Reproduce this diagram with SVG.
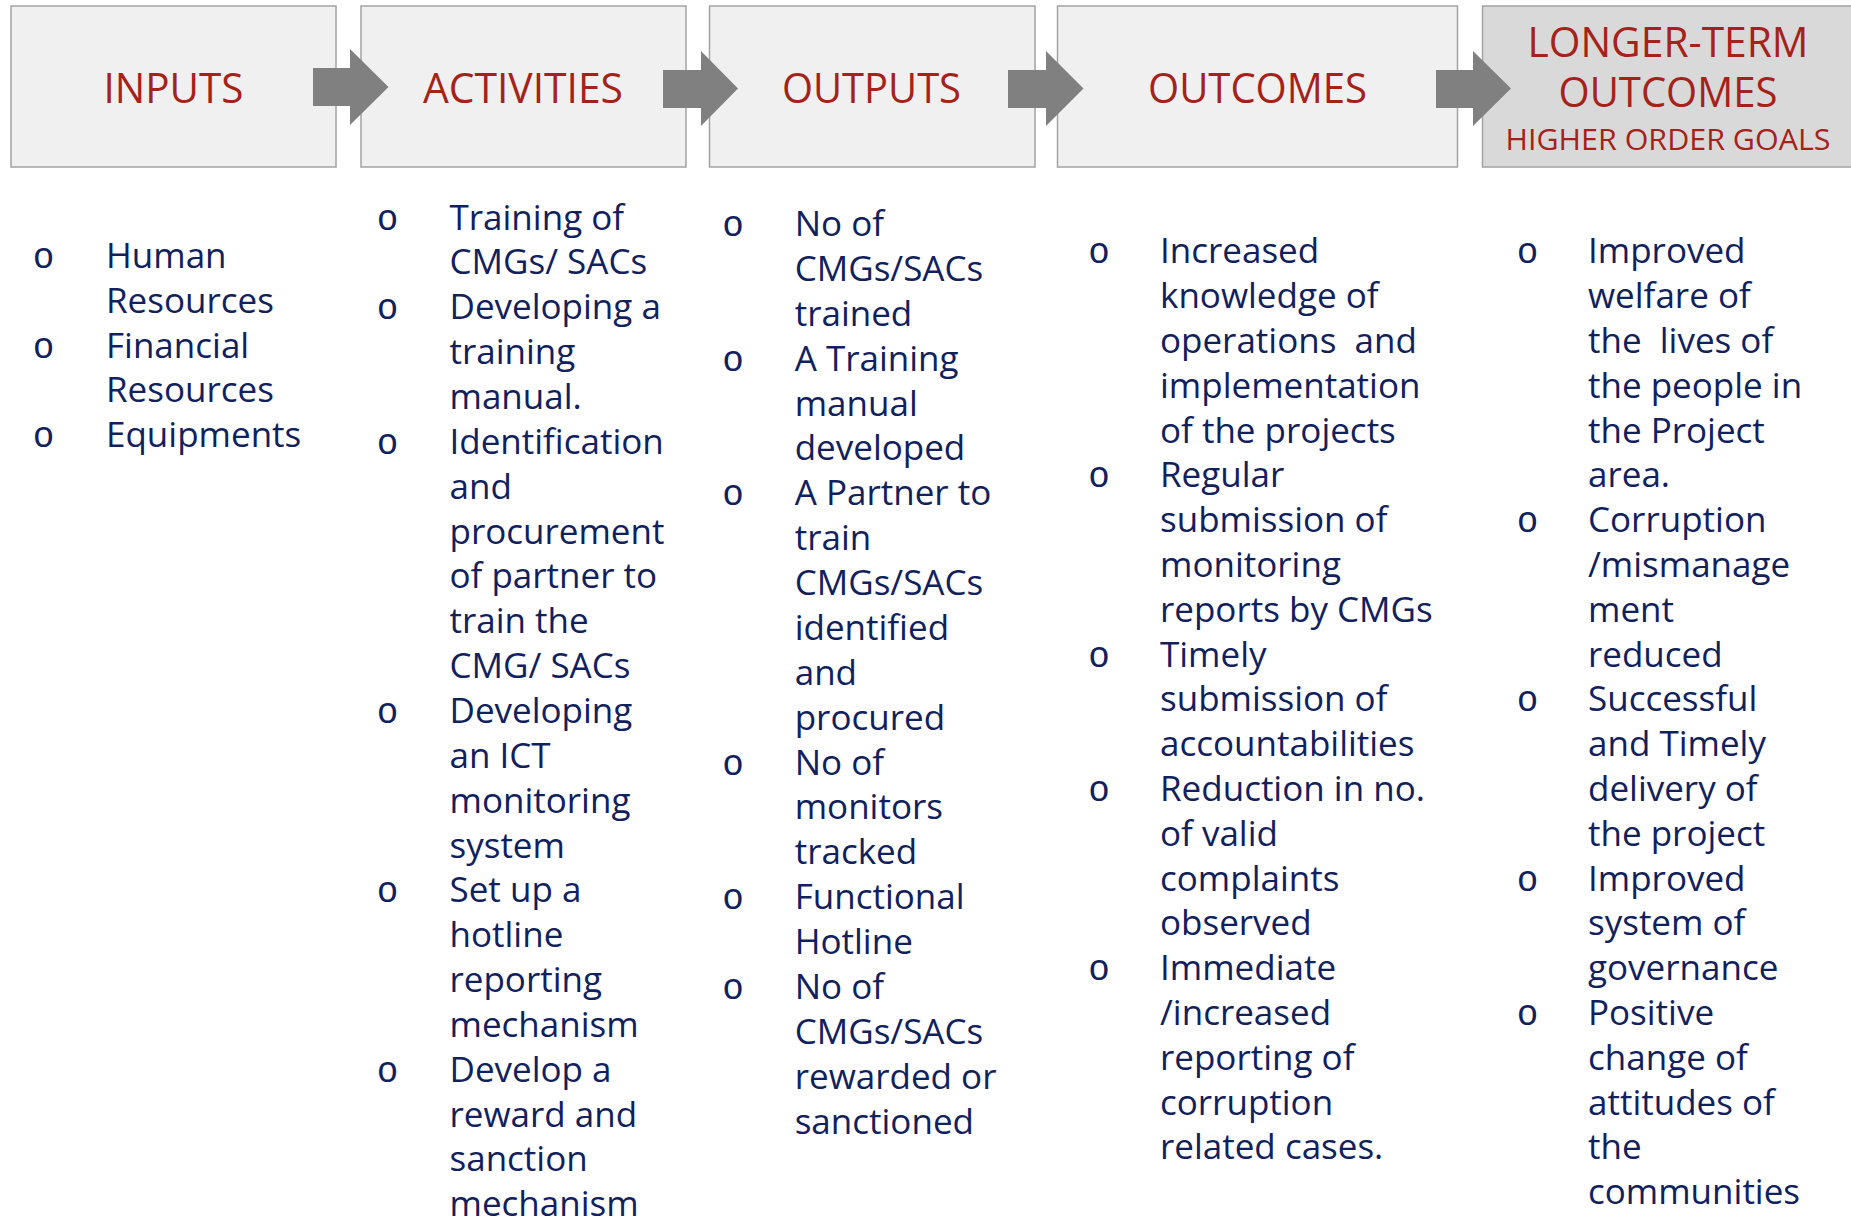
<svg xmlns="http://www.w3.org/2000/svg" width="1851" height="1219" viewBox="0 0 1851 1219">
  <style>
    .box { fill: #f0f0f0; stroke: #a3a3a3; stroke-width: 1.5; }
    .box-dark { fill: #d9d9d9; stroke: #a3a3a3; stroke-width: 1.5; }
    .head { font-family: "Open Sans", "Noto Sans", "Liberation Sans", sans-serif; fill: #a5221a; text-anchor: middle; }
    .h1 { font-size: 42px; }
    .h2 { font-size: 29px; }
    .body { font-family: "Open Sans", "Noto Sans", "Liberation Sans", sans-serif; font-size: 35px; fill: #10215e; }
    .bul { font-family: "Liberation Mono", "DejaVu Sans Mono", monospace; font-size: 36px; fill: #10215e; text-anchor: middle; }
    .arrow { fill: #808080; }
  </style>

  <rect width="1851" height="1219" fill="#ffffff"/>

  <!-- stage boxes -->
  <g id="inputs">
    <rect class="box" x="11" y="6" width="325" height="161"/>
    <text class="head h1" x="173.5" y="103" textLength="140" lengthAdjust="spacingAndGlyphs">INPUTS</text>
  </g>
  <g id="activities">
    <rect class="box" x="361" y="6" width="325" height="161"/>
    <text class="head h1" x="523" y="103" textLength="200" lengthAdjust="spacingAndGlyphs">ACTIVITIES</text>
  </g>
  <g id="outputs">
    <rect class="box" x="709.5" y="6" width="325.5" height="161"/>
    <text class="head h1" x="871.5" y="103" textLength="179" lengthAdjust="spacingAndGlyphs">OUTPUTS</text>
  </g>
  <g id="outcomes">
    <rect class="box" x="1057.5" y="6" width="400" height="161"/>
    <text class="head h1" x="1257.5" y="103" textLength="219" lengthAdjust="spacingAndGlyphs">OUTCOMES</text>
  </g>
  <g id="longer-term-outcomes">
    <rect class="box-dark" x="1482.5" y="6" width="372" height="161"/>
    <text class="head h1" x="1668" y="57" textLength="281" lengthAdjust="spacingAndGlyphs">LONGER-TERM</text>
    <text class="head h1" x="1668" y="107" textLength="219" lengthAdjust="spacingAndGlyphs">OUTCOMES</text>
    <text class="head h2" x="1668" y="150" textLength="325" lengthAdjust="spacingAndGlyphs">HIGHER ORDER GOALS</text>
  </g>

  <!-- block arrows between stages -->
  <g id="connectors">
    <polygon class="arrow" points="313,68 350,68 350,49 388.5,87 350,125 350,106 313,106"/>
    <polygon class="arrow" points="663,70 701,70 701,51 738,88.5 701,126 701,108 663,108"/>
    <polygon class="arrow" points="1008,70 1046,70 1046,51 1083.5,88.5 1046,126 1046,108 1008,108"/>
    <polygon class="arrow" points="1436,70 1473,70 1473,51 1511,88.5 1473,126 1473,108 1436,108"/>
  </g>

  <!-- bullet lists -->
  <g id="inputs-list">
    <text class="bul" x="43.5" y="268">o</text>
    <text class="bul" x="43.5" y="357.6">o</text>
    <text class="bul" x="43.5" y="447.2">o</text>
    <text class="body" x="106" y="268">Human</text>
    <text class="body" x="106" y="312.8">Resources</text>
    <text class="body" x="106" y="357.6">Financial</text>
    <text class="body" x="106" y="402.4">Resources</text>
    <text class="body" x="106" y="447.2">Equipments</text>
  </g>

  <g id="activities-list">
    <text class="bul" x="387.5" y="229.5">o</text>
    <text class="bul" x="387.5" y="319.3">o</text>
    <text class="bul" x="387.5" y="453.8">o</text>
    <text class="bul" x="387.5" y="722.9">o</text>
    <text class="bul" x="387.5" y="902.3">o</text>
    <text class="bul" x="387.5" y="1081.7">o</text>
    <text class="body" x="449.5" y="229.5">Training of</text>
    <text class="body" x="449.5" y="274.4">CMGs/ SACs</text>
    <text class="body" x="449.5" y="319.3">Developing a</text>
    <text class="body" x="449.5" y="364.2">training</text>
    <text class="body" x="449.5" y="409">manual.</text>
    <text class="body" x="449.5" y="453.8">Identification</text>
    <text class="body" x="449.5" y="498.7">and</text>
    <text class="body" x="449.5" y="543.5">procurement</text>
    <text class="body" x="449.5" y="588.4">of partner to</text>
    <text class="body" x="449.5" y="633.2">train the</text>
    <text class="body" x="449.5" y="678.1">CMG/ SACs</text>
    <text class="body" x="449.5" y="722.9">Developing</text>
    <text class="body" x="449.5" y="767.8">an ICT</text>
    <text class="body" x="449.5" y="812.6">monitoring</text>
    <text class="body" x="449.5" y="857.5">system</text>
    <text class="body" x="449.5" y="902.3">Set up a</text>
    <text class="body" x="449.5" y="947.2">hotline</text>
    <text class="body" x="449.5" y="992">reporting</text>
    <text class="body" x="449.5" y="1036.9">mechanism</text>
    <text class="body" x="449.5" y="1081.7">Develop a</text>
    <text class="body" x="449.5" y="1126.6">reward and</text>
    <text class="body" x="449.5" y="1171.4">sanction</text>
    <text class="body" x="449.5" y="1216.3">mechanism</text>
  </g>

  <g id="outputs-list">
    <text class="bul" x="733" y="236">o</text>
    <text class="bul" x="733" y="370.7">o</text>
    <text class="bul" x="733" y="505.3">o</text>
    <text class="bul" x="733" y="774.6">o</text>
    <text class="bul" x="733" y="909.2">o</text>
    <text class="bul" x="733" y="999">o</text>
    <text class="body" x="794.7" y="236">No of</text>
    <text class="body" x="794.7" y="280.9">CMGs/SACs</text>
    <text class="body" x="794.7" y="325.8">trained</text>
    <text class="body" x="794.7" y="370.7">A Training</text>
    <text class="body" x="794.7" y="415.5">manual</text>
    <text class="body" x="794.7" y="460.4">developed</text>
    <text class="body" x="794.7" y="505.3">A Partner to</text>
    <text class="body" x="794.7" y="550.2">train</text>
    <text class="body" x="794.7" y="595">CMGs/SACs</text>
    <text class="body" x="794.7" y="639.9">identified</text>
    <text class="body" x="794.7" y="684.8">and</text>
    <text class="body" x="794.7" y="729.7">procured</text>
    <text class="body" x="794.7" y="774.6">No of</text>
    <text class="body" x="794.7" y="819.4">monitors</text>
    <text class="body" x="794.7" y="864.3">tracked</text>
    <text class="body" x="794.7" y="909.2">Functional</text>
    <text class="body" x="794.7" y="954.1">Hotline</text>
    <text class="body" x="794.7" y="999">No of</text>
    <text class="body" x="794.7" y="1043.8">CMGs/SACs</text>
    <text class="body" x="794.7" y="1088.7">rewarded or</text>
    <text class="body" x="794.7" y="1133.6">sanctioned</text>
  </g>

  <g id="outcomes-list">
    <text class="bul" x="1099" y="263.3">o</text>
    <text class="bul" x="1099" y="487.3">o</text>
    <text class="bul" x="1099" y="666.5">o</text>
    <text class="bul" x="1099" y="800.9">o</text>
    <text class="bul" x="1099" y="980.1">o</text>
    <text class="body" x="1160" y="263.3">Increased</text>
    <text class="body" x="1160" y="308.1">knowledge of</text>
    <text class="body" x="1160" y="352.9" xml:space="preserve">operations  and</text>
    <text class="body" x="1160" y="397.7">implementation</text>
    <text class="body" x="1160" y="442.5">of the projects</text>
    <text class="body" x="1160" y="487.3">Regular</text>
    <text class="body" x="1160" y="532.1">submission of</text>
    <text class="body" x="1160" y="576.9">monitoring</text>
    <text class="body" x="1160" y="621.7">reports by CMGs</text>
    <text class="body" x="1160" y="666.5">Timely</text>
    <text class="body" x="1160" y="711.3">submission of</text>
    <text class="body" x="1160" y="756.1">accountabilities</text>
    <text class="body" x="1160" y="800.9">Reduction in no.</text>
    <text class="body" x="1160" y="845.7">of valid</text>
    <text class="body" x="1160" y="890.5">complaints</text>
    <text class="body" x="1160" y="935.3">observed</text>
    <text class="body" x="1160" y="980.1">Immediate</text>
    <text class="body" x="1160" y="1024.9">/increased</text>
    <text class="body" x="1160" y="1069.7">reporting of</text>
    <text class="body" x="1160" y="1114.5">corruption</text>
    <text class="body" x="1160" y="1159.3">related cases.</text>
  </g>

  <g id="longer-term-list">
    <text class="bul" x="1527.5" y="263.3">o</text>
    <text class="bul" x="1527.5" y="532.1">o</text>
    <text class="bul" x="1527.5" y="711.3">o</text>
    <text class="bul" x="1527.5" y="890.5">o</text>
    <text class="bul" x="1527.5" y="1024.9">o</text>
    <text class="body" x="1588" y="263.3">Improved</text>
    <text class="body" x="1588" y="308.1">welfare of</text>
    <text class="body" x="1588" y="352.9" xml:space="preserve">the  lives of</text>
    <text class="body" x="1588" y="397.7">the people in</text>
    <text class="body" x="1588" y="442.5">the Project</text>
    <text class="body" x="1588" y="487.3">area.</text>
    <text class="body" x="1588" y="532.1">Corruption</text>
    <text class="body" x="1588" y="576.9">/mismanage</text>
    <text class="body" x="1588" y="621.7">ment</text>
    <text class="body" x="1588" y="666.5">reduced</text>
    <text class="body" x="1588" y="711.3">Successful</text>
    <text class="body" x="1588" y="756.1">and Timely</text>
    <text class="body" x="1588" y="800.9">delivery of</text>
    <text class="body" x="1588" y="845.7">the project</text>
    <text class="body" x="1588" y="890.5">Improved</text>
    <text class="body" x="1588" y="935.3">system of</text>
    <text class="body" x="1588" y="980.1">governance</text>
    <text class="body" x="1588" y="1024.9">Positive</text>
    <text class="body" x="1588" y="1069.7">change of</text>
    <text class="body" x="1588" y="1114.5">attitudes of</text>
    <text class="body" x="1588" y="1159.3">the</text>
    <text class="body" x="1588" y="1204.1">communities</text>
  </g>
</svg>
